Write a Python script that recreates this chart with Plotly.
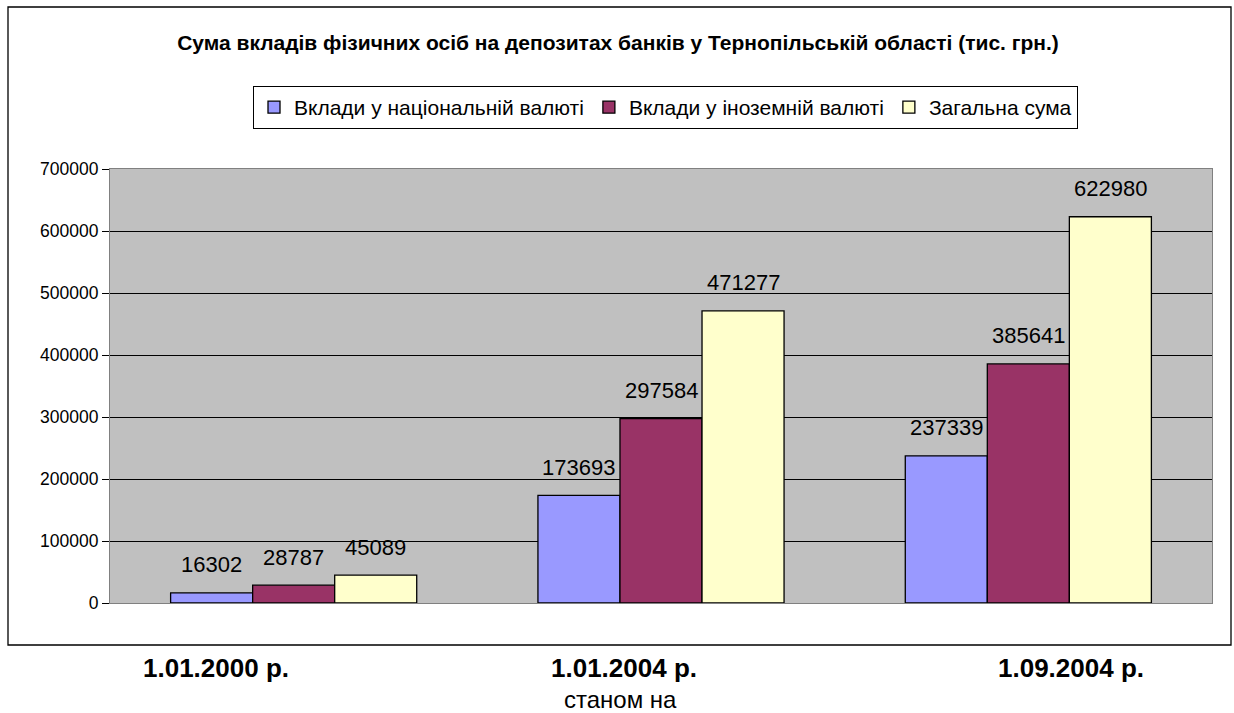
import plotly.graph_objects as go

categories = ["1.01.2000 р.", "1.01.2004 р.", "1.09.2004 р."]
series_names = ["Вклади у національній валюті", "Вклади у іноземній валюті", "Загальна сума"]
national = [16302, 173693, 237339]
foreign = [28787, 297584, 385641]
total = [45089, 471277, 622980]
series_values = [national, foreign, total]
colors = ["#9999FF", "#993366", "#FFFFCC"]
y_ticks = [0, 100000, 200000, 300000, 400000, 500000, 600000, 700000]
x_title = "станом на"
title = "Сума вкладів фізичних осіб на депозитах банків у Тернопільській області (тис. грн.)"

W, H = 1234, 713
L, R, T, B = 110, 22, 169, 110
pw, ph = W - L - R, H - T - B

def px(x):
    return (x - L) / pw

def py(y):
    return (H - B - y) / ph

FONT = "Liberation Sans, Arial, sans-serif"

fig = go.Figure()
for name, vals, col in zip(series_names, series_values, colors):
    fig.add_trace(go.Bar(
        x=list(range(len(categories))), y=vals, name=name,
        marker=dict(color=col, line=dict(color="black", width=1.3)),
    ))

bargap = 0.33
bw = (1 - bargap) / 3
annotations = []
for i, vals in enumerate(series_values):
    for j, v in enumerate(vals):
        annotations.append(dict(
            x=j + (i - 1) * bw, y=v, xref="x", yref="y", text=str(v),
            showarrow=False, yanchor="middle", yshift=28,
            font=dict(family=FONT, size=22, color="black"),
        ))

cat_px = [216, 624, 1071]
for c, xp in zip(categories, cat_px):
    annotations.append(dict(
        x=px(xp), y=py(668), xref="paper", yref="paper", text="<b>" + c + "</b>",
        showarrow=False, xanchor="center", yanchor="middle",
        font=dict(family=FONT, size=26, color="black"),
    ))
annotations.append(dict(
    x=px(620), y=py(699), xref="paper", yref="paper", text=x_title,
    showarrow=False, xanchor="center", yanchor="middle",
    font=dict(family=FONT, size=24, color="black"),
))

fig.update_layout(
    width=W, height=H,
    margin=dict(l=L, r=R, t=T, b=B),
    paper_bgcolor="white", plot_bgcolor="#C0C0C0",
    barmode="group", bargap=bargap, bargroupgap=0,
    title=dict(text="<b>" + title + "</b>", x=px(618), xref="paper", xanchor="center",
               y=1 - 43 / H, yanchor="middle",
               font=dict(family=FONT, size=21, color="black")),
    legend=dict(orientation="h", x=px(253), y=py(86), xanchor="left", yanchor="top",
                bordercolor="black", borderwidth=1, bgcolor="white",
                font=dict(family=FONT, size=21, color="black"),
                traceorder="normal", itemwidth=30),
    annotations=annotations,
    showlegend=True,
    shapes=[dict(type="rect", xref="paper", yref="paper",
                 x0=px(8), x1=px(1231), y0=py(645), y1=py(7),
                 line=dict(color="black", width=1.3), layer="below")],
)
fig.update_xaxes(range=[-0.5, 2.5], showticklabels=False, ticks="",
                 showline=True, linecolor="#808080", mirror=True, showgrid=False,
                 zeroline=False)
fig.update_yaxes(range=[0, 700000], tickvals=y_ticks, ticktext=[str(t) for t in y_ticks],
                 showgrid=True, gridcolor="black", gridwidth=1,
                 showline=True, linecolor="#808080", mirror=True,
                 ticks="outside", ticklen=7, tickcolor="black",
                 zeroline=True, zerolinecolor="black", zerolinewidth=1,
                 tickfont=dict(family=FONT, size=17.5, color="black"))

fig.write_html("out.html", config={"displayModeBar": False},
               post_script="document.body.style.margin='0';document.body.style.overflow='hidden';")
